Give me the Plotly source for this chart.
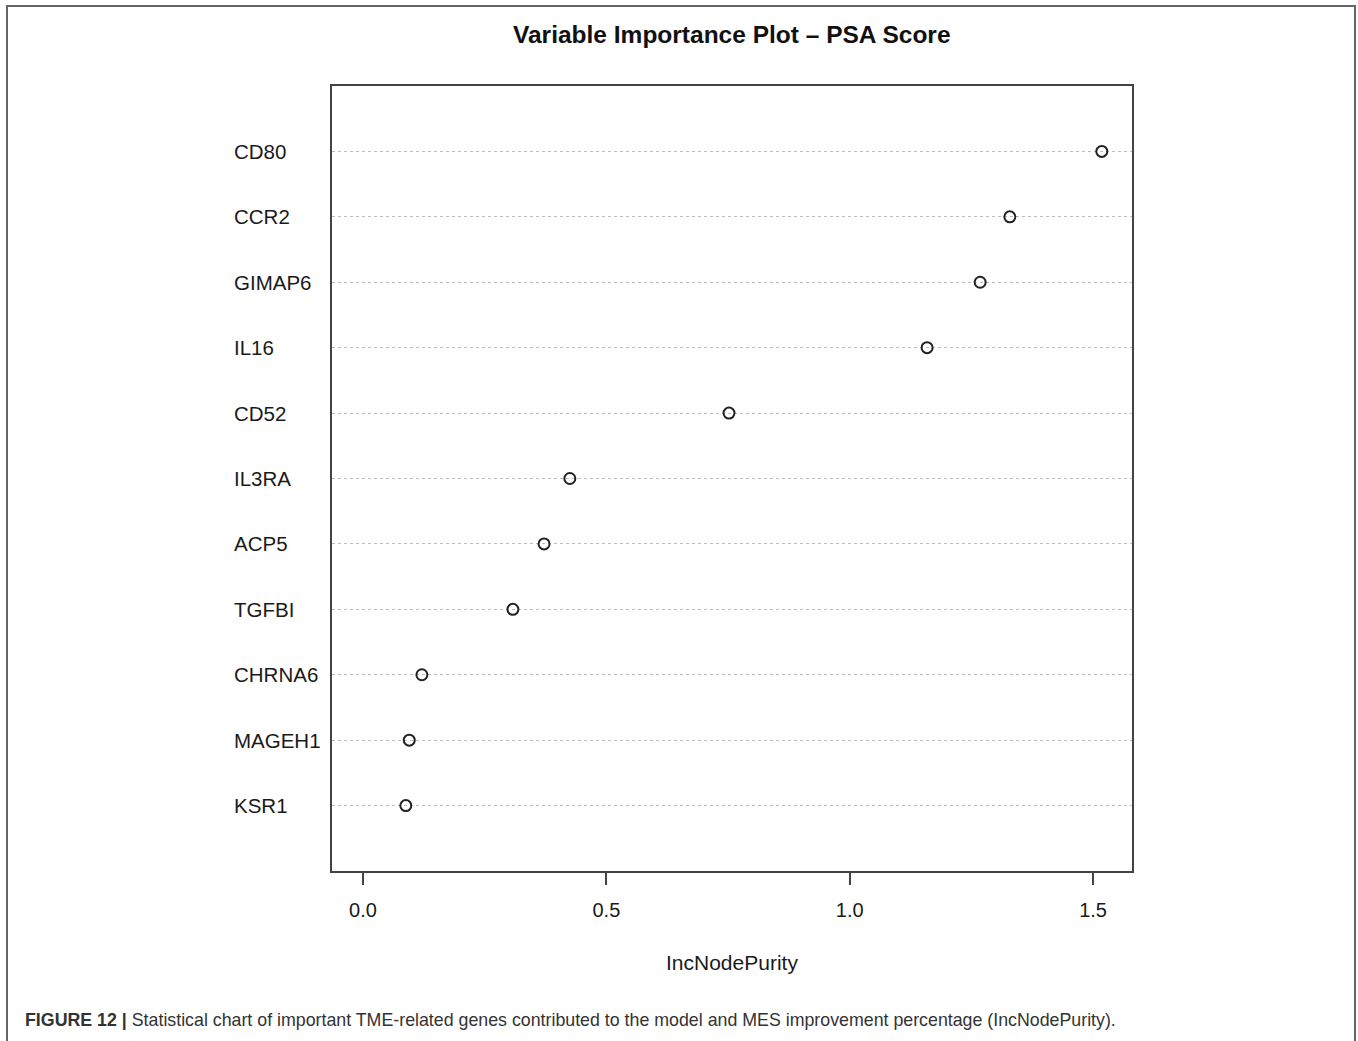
import plotly.graph_objects as go

# ---- data (top to bottom as shown) ----
genes = ["CD80", "CCR2", "GIMAP6", "IL16", "CD52", "IL3RA", "ACP5", "TGFBI", "CHRNA6", "MAGEH1", "KSR1"]
inc_node_purity = [1.518, 1.329, 1.268, 1.159, 0.752, 0.425, 0.372, 0.308, 0.121, 0.095, 0.088]
x_ticks = [0.0, 0.5, 1.0, 1.5]
x_tick_labels = ["0.0", "0.5", "1.0", "1.5"]

title_text = "Variable Importance Plot \u2013 PSA Score"
x_title = "IncNodePurity"
caption_bold = "FIGURE 12 |"
caption_text = ("Statistical chart of important TME-related genes contributed to the model "
                "and MES improvement percentage (IncNodePurity).")

# plotting order bottom -> top
cats = genes[::-1]
vals = inc_node_purity[::-1]

W, H = 1358, 1041
L, R, T, B = 332, 1132, 86, 871  # plot box in pixels


def px_x(px):
    return (px - L) / (R - L)


def px_y(py):
    return (B - py) / (B - T)


FONT = "Liberation Sans, Arial, Helvetica, sans-serif"

fig = go.Figure()
fig.add_trace(go.Scatter(
    x=vals, y=cats, mode="markers",
    marker=dict(symbol="circle-open", size=11, color="#222222",
                line=dict(width=2, color="#222222")),
    hoverinfo="x+y", showlegend=False,
))

annotations = []
for g in genes:
    annotations.append(dict(
        x=px_x(232), xref="paper", y=g, yref="y",
        text=g, showarrow=False, xanchor="left", yanchor="middle",
        font=dict(family=FONT, size=20.5, color="#1a1a1a"),
    ))

annotations.append(dict(
    x=px_x(732), xref="paper", y=px_y(34), yref="paper",
    text="<b>" + title_text + "</b>", showarrow=False,
    xanchor="center", yanchor="middle",
    font=dict(family=FONT, size=24.5, color="#111111"),
))
annotations.append(dict(
    x=px_x(732), xref="paper", y=px_y(962), yref="paper",
    text=x_title, showarrow=False, xanchor="center", yanchor="middle",
    font=dict(family=FONT, size=21, color="#1a1a1a"),
))
annotations.append(dict(
    x=px_x(23), xref="paper", y=px_y(1020), yref="paper",
    text="<b>" + caption_bold + "</b> " + caption_text, showarrow=False,
    xanchor="left", yanchor="middle",
    font=dict(family=FONT, size=17.8, color="#333333"),
))

shapes = [dict(
    type="rect", xref="paper", yref="paper",
    x0=px_x(7), x1=px_x(1355), y0=px_y(1060), y1=px_y(6),
    line=dict(color="#666666", width=2), fillcolor="rgba(0,0,0,0)", layer="below",
)]

fig.update_layout(
    width=W, height=H,
    margin=dict(l=L, r=W - R, t=T, b=H - B, pad=0),
    paper_bgcolor="white", plot_bgcolor="white",
    font=dict(family=FONT, size=20, color="#1a1a1a"),
    annotations=annotations, shapes=shapes,
    xaxis=dict(
        range=[-0.0637, 1.580], tickmode="array", tickvals=x_ticks, ticktext=x_tick_labels,
        showgrid=False, zeroline=False,
        showline=True, mirror=True, linecolor="#444444", linewidth=2,
        ticks="outside", ticklen=12, tickwidth=2, tickcolor="#444444",
        ticklabelstandoff=8,
        tickfont=dict(family=FONT, size=20, color="#1a1a1a"),
    ),
    yaxis=dict(
        type="category", categoryorder="array", categoryarray=cats,
        range=[-1, len(cats)],
        showticklabels=False, ticks="",
        showgrid=True, gridcolor="#bdbdbd", gridwidth=1.2, griddash="dot",
        zeroline=False,
        showline=True, mirror=True, linecolor="#444444", linewidth=2,
    ),
)

fig.write_html("out.html")
